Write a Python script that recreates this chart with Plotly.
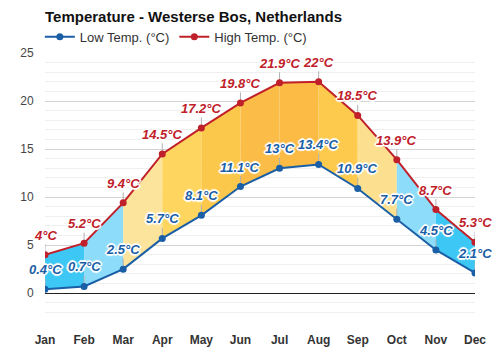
import plotly.graph_objects as go

months = ["Jan", "Feb", "Mar", "Apr", "May", "Jun", "Jul", "Aug", "Sep", "Oct", "Nov", "Dec"]
low_temp = [0.4, 0.7, 2.5, 5.7, 8.1, 11.1, 13, 13.4, 10.9, 7.7, 4.5, 2.1]
high_temp = [4, 5.2, 9.4, 14.5, 17.2, 19.8, 21.9, 22, 18.5, 13.9, 8.7, 5.3]
segment_colors = ["#3cc7f4", "#8ddcfa", "#fde49c", "#fdd55f", "#fcc84c", "#fbbd47",
                  "#fbbb45", "#fdca4d", "#fde08f", "#8ddcfa", "#3cc7f4"]

LOW_C = "#1a5fa6"
HIGH_C = "#c0202a"
FONT = "Arial, Liberation Sans, sans-serif"

xs = list(range(len(months)))
fig = go.Figure()

# colored fill segments between low and high
for i, col in enumerate(segment_colors):
    fig.add_trace(go.Scatter(
        x=[xs[i], xs[i + 1], xs[i + 1], xs[i], xs[i]],
        y=[low_temp[i], low_temp[i + 1], high_temp[i + 1], high_temp[i], low_temp[i]],
        fill="toself", fillcolor=col, mode="lines", line=dict(width=0),
        hoverinfo="skip", showlegend=False))

conn = dict(type="data", symmetric=False, array=[1.1] * len(xs), arrayminus=[0] * len(xs),
            color="#b0b0b0", thickness=1, width=0)

fig.add_trace(go.Scatter(
    x=xs, y=low_temp, mode="lines+markers", name="Low Temp. (°C)",
    line=dict(color=LOW_C, width=2), marker=dict(color=LOW_C, size=7),
    error_y=conn))
fig.add_trace(go.Scatter(
    x=xs, y=high_temp, mode="lines+markers", name="High Temp. (°C)",
    line=dict(color=HIGH_C, width=2), marker=dict(color=HIGH_C, size=7),
    error_y=conn))

shadow = "1px 1px 0 #fff, -1px -1px 0 #fff, 1px -1px 0 #fff, -1px 1px 0 #fff, 0 2px 1px #fff, 0 -2px 1px #fff, 2px 0 1px #fff, -2px 0 1px #fff"
annotations = []
for vals, col in ((low_temp, LOW_C), (high_temp, HIGH_C)):
    for x, v in zip(xs, vals):
        annotations.append(dict(
            x=x, y=v, xref="x", yref="y", text=f"{v:g}°C", showarrow=False,
            yanchor="bottom", yshift=10,
            font=dict(family=FONT, size=13, color=col, weight="bold", style="italic",
                      shadow=shadow)))

fig.update_layout(
    width=500, height=350,
    margin=dict(l=45, r=25, t=53, b=28, autoexpand=False),
    paper_bgcolor="white", plot_bgcolor="white",
    font=dict(family=FONT, size=12, color="#444"),
    title=dict(text="<b>Temperature - Westerse Bos, Netherlands</b>",
               x=45 / 500, xanchor="left", y=1 - 17 / 350, yanchor="middle",
               font=dict(family=FONT, size=15, color="#111")),
    legend=dict(orientation="h", x=-0.012, xanchor="left", y=1.06, yanchor="middle",
                font=dict(family=FONT, size=13, color="#333"), bgcolor="rgba(0,0,0,0)"),
    xaxis=dict(range=[0, 11], tickvals=xs, ticktext=[f"<b>{m}</b>" for m in months],
               showgrid=False, zeroline=False, showline=False, automargin=False,
               tickfont=dict(family=FONT, size=12, color="#333"),
               ticks="outside", ticklen=7, tickcolor="rgba(0,0,0,0)"),
    yaxis=dict(range=[-3, 25], tickvals=[0, 5, 10, 15, 20, 25], automargin=False,
               showgrid=True, gridcolor="#d4d4d4", gridwidth=1,
               minor=dict(dtick=1, showgrid=True, gridcolor="#efefef", gridwidth=1),
               zeroline=True, zerolinecolor="#222", zerolinewidth=1,
               tickfont=dict(family=FONT, size=12, color="#444"),
               ticks="outside", ticklen=8, tickcolor="rgba(0,0,0,0)"),
    annotations=annotations,
)

fig.write_html("out.html")
